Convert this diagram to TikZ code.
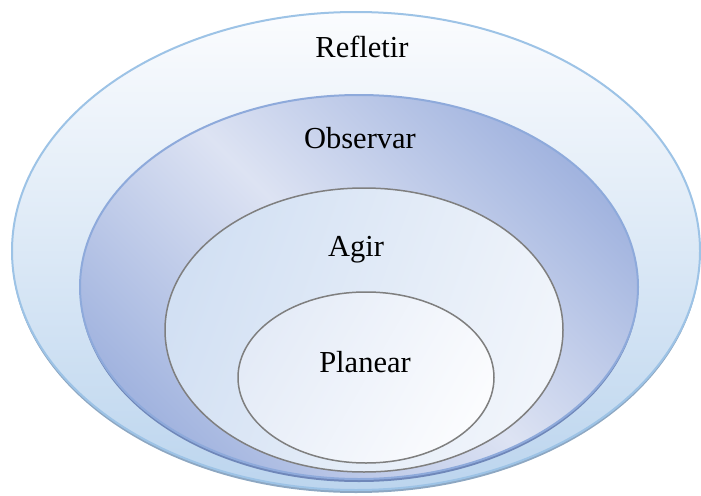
\documentclass[tikz,border=0pt]{standalone}
\usepackage{fontspec}
\setmainfont{Liberation Serif}
\definecolor{outerTop}{HTML}{FBFCFE}
\definecolor{outerBot}{HTML}{BCD5EE}
\definecolor{outerLine}{HTML}{9DC3E6}
\definecolor{outerShade}{HTML}{8DA7C2}
\definecolor{obsDark}{HTML}{A2B4DF}
\definecolor{obsLight}{HTML}{DDE3F3}
\definecolor{obsLine}{HTML}{8EAADB}
\definecolor{obsShade}{HTML}{6F87B9}
\definecolor{agirA}{HTML}{D2E0F3}
\definecolor{agirB}{HTML}{F1F5FB}
\definecolor{planA}{HTML}{E4EBF7}
\definecolor{planB}{HTML}{FBFCFE}
\definecolor{ringLine}{HTML}{7F7F7F}
\tikzset{
  lbl/.style={anchor=base, font=\fontsize{30.5}{36}\selectfont, text=black, inner sep=0pt},
  ring/.style={draw=ringLine, line width=1.5pt}
}
\begin{document}
\begin{tikzpicture}[x=1pt, y=-1pt]
  \useasboundingbox (0,0) rectangle (701,495);
  % outer ring: Refletir
  \fill[outerShade] (356,254) ellipse [x radius=344, y radius=239];
  \shade[top color=outerTop, bottom color=outerBot, draw=outerLine, line width=2pt]
    (356,251) ellipse [x radius=344, y radius=239];
  % second ring: Observar
  \fill[obsShade] (359,290) ellipse [x radius=279, y radius=192];
  \shade[top color=obsDark, bottom color=obsDark, middle color=obsLight, shading angle=-45,
         draw=obsLine, line width=2pt]
    (359,287) ellipse [x radius=279, y radius=192];
  % third ring: Agir
  \shade[ring, left color=agirA, right color=agirB, shading angle=70]
    (364,330) ellipse [x radius=199, y radius=142];
  % inner disc: Planear
  \shade[ring, left color=planA, right color=planB, shading angle=60]
    (366,377.5) ellipse [x radius=128, y radius=85.5];
  % labels
  \node[lbl] (refletir) at (362,57) {Refletir};
  \node[lbl] (observar) at (360,148) {Observar};
  \node[lbl] (agir) at (356,256) {Agir};
  \node[lbl] (planear) at (365,372) {Planear};
\end{tikzpicture}
\end{document}
